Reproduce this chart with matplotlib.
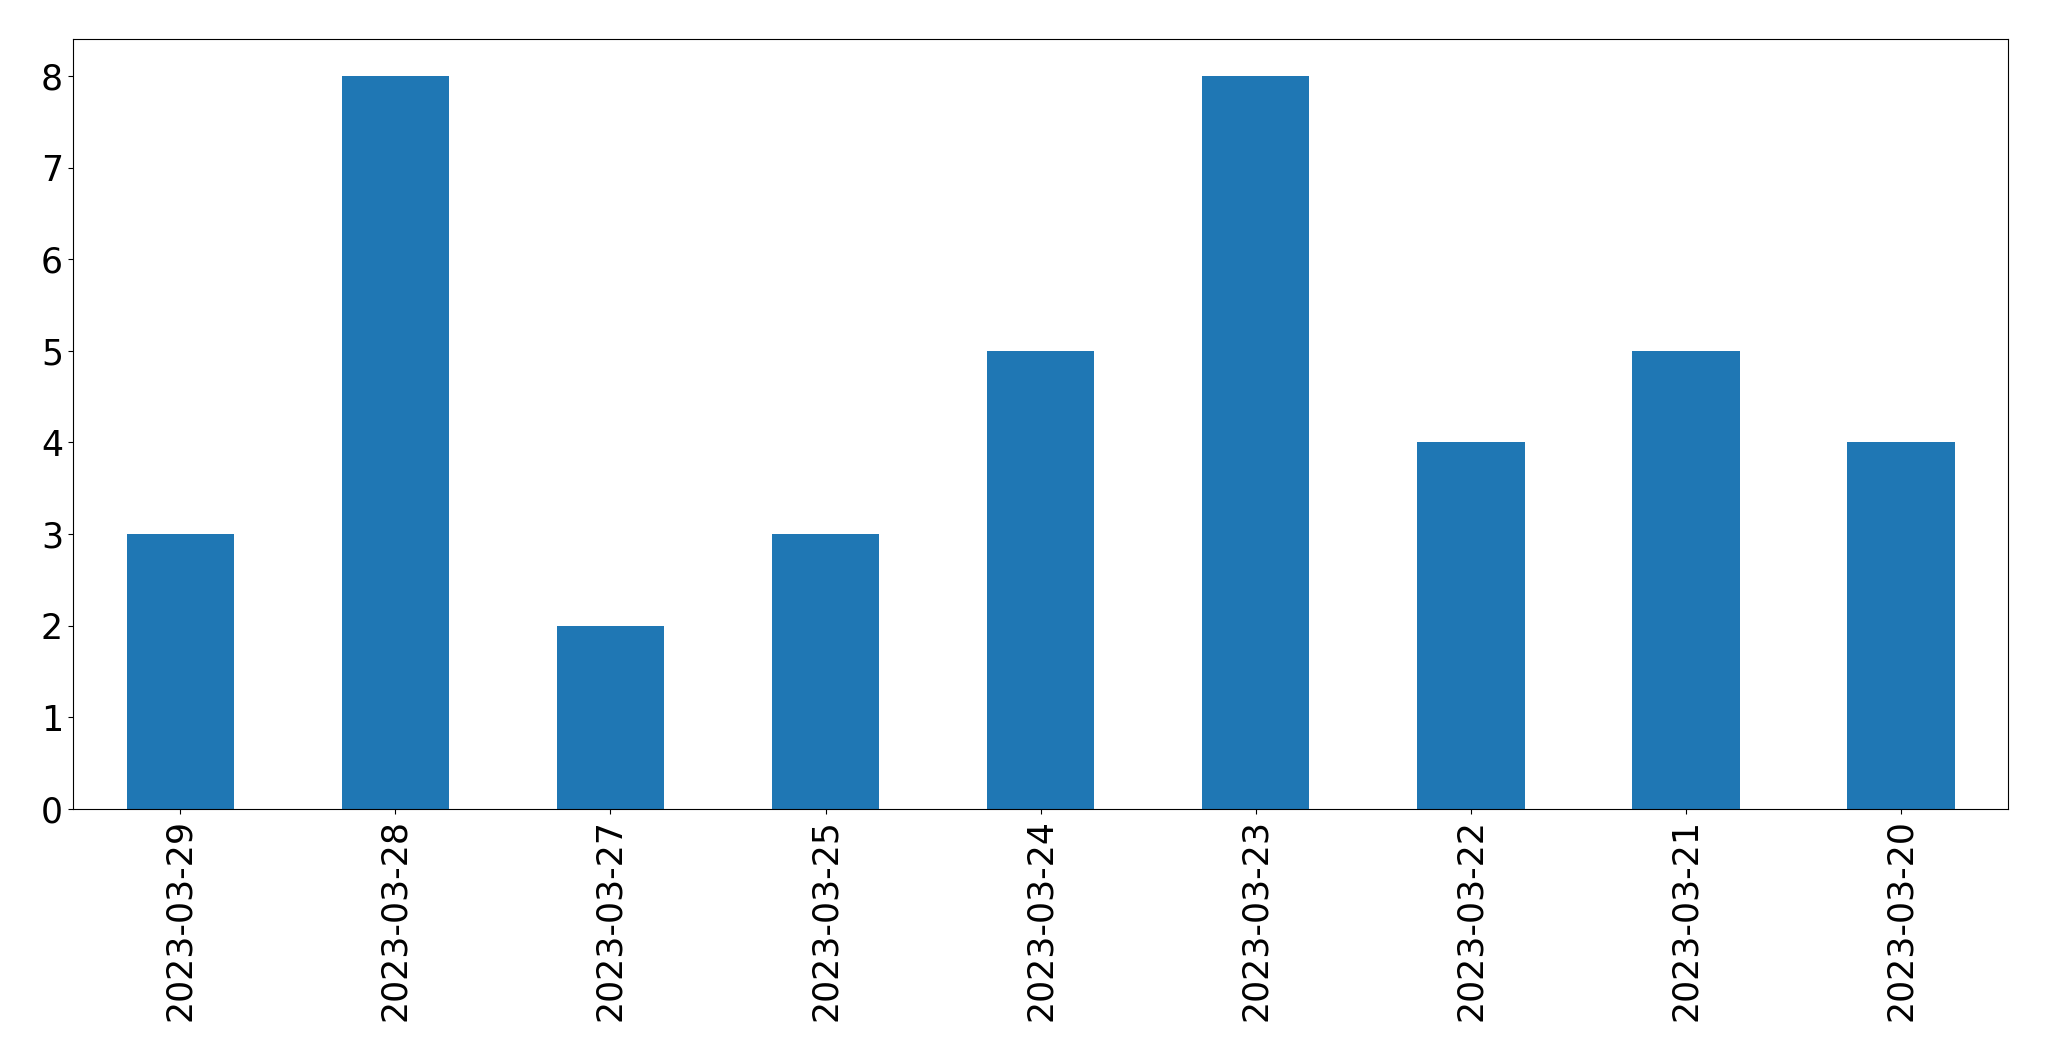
import matplotlib
matplotlib.use("Agg")
import matplotlib.pyplot as plt
import pandas as pd

dates = ["2023-03-29", "2023-03-28", "2023-03-27", "2023-03-25", "2023-03-24",
         "2023-03-23", "2023-03-22", "2023-03-21", "2023-03-20"]
counts = [3, 8, 2, 3, 5, 8, 4, 5, 4]

fig = plt.figure(figsize=(20.49, 10.61), dpi=100)
ax = fig.add_axes([0.0355, 0.2375, 0.9447, 0.7255])
s = pd.Series(counts, index=dates)
s.plot(kind="bar", ax=ax, color="#1f77b4")
ax.tick_params(axis="both", labelsize=25)
ax.set_xlabel("")
fig.savefig("out.png", dpi=100)
